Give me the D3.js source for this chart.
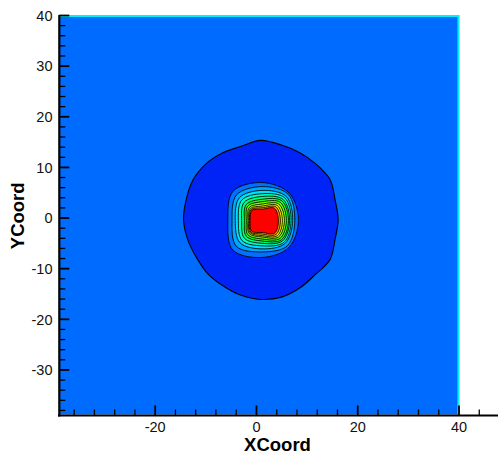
<!DOCTYPE html>
<html>
<head>
<meta charset="utf-8">
<script src="https://cdn.jsdelivr.net/npm/d3@7/dist/d3.min.js"></script>
<style>
  html, body { margin: 0; padding: 0; background: #ffffff; }
  svg { display: block; font-family: "Liberation Sans", Arial, Helvetica, sans-serif; }
</style>
</head>
<body>
<svg id="chart" width="498" height="456"></svg>
<script>
// ---------------- data ----------------
const xDomain = [-38.8, 40];
const yDomain = [-38.8, 40];
const xAxisEnd = 47.8;
const xTickLabels = [-20, 0, 20, 40];
const xMinorTicks = [-36, -32, -28, -24, -16, -12, -8, -4, 4, 8, 12, 16, 24, 28, 32, 36, 44];
const yTickLabels = [-30, -20, -10, 0, 10, 20, 30, 40];
const yMinorTicks = [-38, -36, -34, -32, -28, -26, -24, -22, -18, -16, -14, -12, -8, -6, -4, -2,
                     2, 4, 6, 8, 12, 14, 16, 18, 22, 24, 26, 28, 32, 34, 36, 38];

// outer ring (low value band) boundary, polar about ringCenter
const ringCenter = [0.83, -0.30];
const ringAngles = [0, 15, 30, 45, 60, 75, 90, 105, 120, 135, 150, 165,
                    180, 195, 210, 225, 240, 255, 270, 285, 300, 315, 330, 345];
const ringRadius = [15.29, 15.21, 15.82, 15.48, 15.31, 15.29, 15.64, 14.97, 15.17, 15.42, 15.48, 15.23,
                    15.23, 14.95, 14.73, 14.93, 15.05, 15.44, 15.78, 15.86, 15.56, 15.31, 15.82, 15.21];

// inner peak contour levels, polar about peakCenter (angles: E, NE, N, NW, W, SW, S, SE)
const peakCenter = [1.12, -0.49];
const peakAngles = [0, 45, 90, 135, 180, 225, 270, 315];
const level1Radius  = [7.16, 7.61, 7.50, 8.15, 6.77, 8.22, 7.30, 7.50];
const level2Radius  = [6.45, 7.30, 6.70, 7.15, 5.95, 7.20, 6.20, 7.05];
const level3Radius  = [6.02, 6.72, 5.95, 6.35, 5.30, 6.20, 5.60, 6.40];
const level4Radius  = [5.72, 6.33, 5.30, 5.70, 4.70, 5.60, 5.00, 6.10];
const level5Radius  = [5.42, 5.87, 4.75, 5.05, 4.05, 4.95, 4.50, 5.70];
const level6Radius  = [5.19, 5.51, 4.20, 4.45, 3.50, 4.40, 4.05, 5.40];
const level7Radius  = [4.79, 5.08, 3.72, 4.02, 3.12, 3.98, 3.65, 5.00];
const level8Radius  = [4.40, 4.63, 3.25, 3.61, 2.80, 3.62, 3.25, 4.60];
const level9Radius  = [4.00, 4.21, 2.85, 3.31, 2.64, 3.39, 2.98, 4.25];
const level10Radius = [3.61, 3.82, 2.52, 3.08, 2.50, 3.18, 2.68, 3.88];
const level11Radius = [3.21, 3.43, 2.23, 2.86, 2.37, 2.96, 2.37, 3.51];
const peakLevels = [level1Radius, level2Radius, level3Radius, level4Radius, level5Radius, level6Radius,
                    level7Radius, level8Radius, level9Radius, level10Radius, level11Radius];

// ---------------- styles ----------------
const ringColor = "rgb(0,36,245)";
const backgroundColor = "rgb(0,108,255)";
const levelColors = [
  "rgb(0,112,255)", "rgb(0,165,255)", "rgb(0,222,255)", "rgb(0,255,190)",
  "rgb(0,255,120)", "rgb(30,255,40)", "rgb(110,255,0)", "rgb(200,255,0)",
  "rgb(255,230,0)", "rgb(255,150,0)", "rgb(255,0,0)"
];

// ---------------- layout ----------------
const svg = d3.select("#chart");
const x = d3.scaleLinear().domain(xDomain).range([60, 459]);
const y = d3.scaleLinear().domain(yDomain).range([414.5, 15.5]);

// background field
svg.append("rect")
  .attr("x", x(xDomain[0])).attr("y", y(yDomain[1]))
  .attr("width", x(xDomain[1]) - x(xDomain[0]))
  .attr("height", y(yDomain[0]) - y(yDomain[1]))
  .attr("fill", backgroundColor);

function polarPoints(center, angles, radii) {
  return angles.map((a, i) => {
    const t = a * Math.PI / 180;
    return [center[0] + radii[i] * Math.cos(t), center[1] + radii[i] * Math.sin(t)];
  });
}
const contourLine = d3.line()
  .x(d => x(d[0])).y(d => y(d[1]))
  .curve(d3.curveCatmullRomClosed.alpha(0.5));

const g = svg.append("g");
g.append("path")
  .attr("d", contourLine(polarPoints(ringCenter, ringAngles, ringRadius)))
  .attr("fill", ringColor).attr("stroke", "#000").attr("stroke-width", 1.1);

peakLevels.forEach((radii, i) => {
  g.append("path")
    .attr("d", contourLine(polarPoints(peakCenter, peakAngles, radii)))
    .attr("fill", levelColors[i]).attr("stroke", "#000").attr("stroke-width", 0.85);
});

// cyan zone border along top and right
svg.append("path")
  .attr("d", d3.line()([[x(xDomain[0]), y(yDomain[1]) + 0.5], [x(xDomain[1]) - 0.5, y(yDomain[1]) + 0.5], [x(xDomain[1]) - 0.5, y(yDomain[0])]]))
  .attr("fill", "none").attr("stroke", "#00f0ff").attr("stroke-width", 2.2);

// ---------------- axes ----------------
const xAxisScale = d3.scaleLinear().domain([xDomain[0], xAxisEnd]).range([x(xDomain[0]), x(xAxisEnd)]);
const axisY = 415.5, axisX = 59.3;

const ax = svg.append("g");
ax.selectAll(".xminor").data(xMinorTicks).join("line")
  .attr("x1", d => xAxisScale(d)).attr("x2", d => xAxisScale(d))
  .attr("y1", axisY).attr("y2", axisY - 6)
  .attr("stroke", "#000").attr("stroke-width", 1.3);
ax.selectAll(".xmajor").data(xTickLabels).join("line")
  .attr("x1", d => xAxisScale(d)).attr("x2", d => xAxisScale(d))
  .attr("y1", axisY).attr("y2", axisY - 10)
  .attr("stroke", "#000").attr("stroke-width", 1.8);
ax.selectAll(".yminor").data(yMinorTicks).join("line")
  .attr("x1", axisX).attr("x2", axisX + 6)
  .attr("y1", d => y(d)).attr("y2", d => y(d))
  .attr("stroke", "#000").attr("stroke-width", 1.3);
ax.selectAll(".ymajor").data(yTickLabels).join("line")
  .attr("x1", axisX).attr("x2", axisX + 10)
  .attr("y1", d => y(d)).attr("y2", d => y(d))
  .attr("stroke", "#000").attr("stroke-width", 1.8);

// axis lines
ax.append("line").attr("x1", 58).attr("x2", 498).attr("y1", axisY).attr("y2", axisY)
  .attr("stroke", "#000").attr("stroke-width", 2.2);
ax.append("line").attr("x1", axisX).attr("x2", axisX).attr("y1", y(yDomain[1]) - 0.5).attr("y2", axisY + 1)
  .attr("stroke", "#000").attr("stroke-width", 2.2);

// tick labels
ax.selectAll(".xlab").data(xTickLabels).join("text")
  .attr("x", d => xAxisScale(d)).attr("y", 432)
  .attr("text-anchor", "middle").attr("font-size", 14.5).attr("fill", "#111")
  .text(d => d);
ax.selectAll(".ylab").data(yTickLabels).join("text")
  .attr("x", 52.5).attr("y", d => y(d) + 5.2)
  .attr("text-anchor", "end").attr("font-size", 14.5).attr("fill", "#111")
  .text(d => d);

// titles
svg.append("text").attr("x", 277.5).attr("y", 450.5)
  .attr("text-anchor", "middle").attr("font-size", 18.5).attr("font-weight", "bold")
  .text("XCoord");
svg.append("text").attr("transform", "translate(23.5,215.8) rotate(-90)")
  .attr("text-anchor", "middle").attr("font-size", 18.5).attr("font-weight", "bold")
  .text("YCoord");
</script>
</body>
</html>
